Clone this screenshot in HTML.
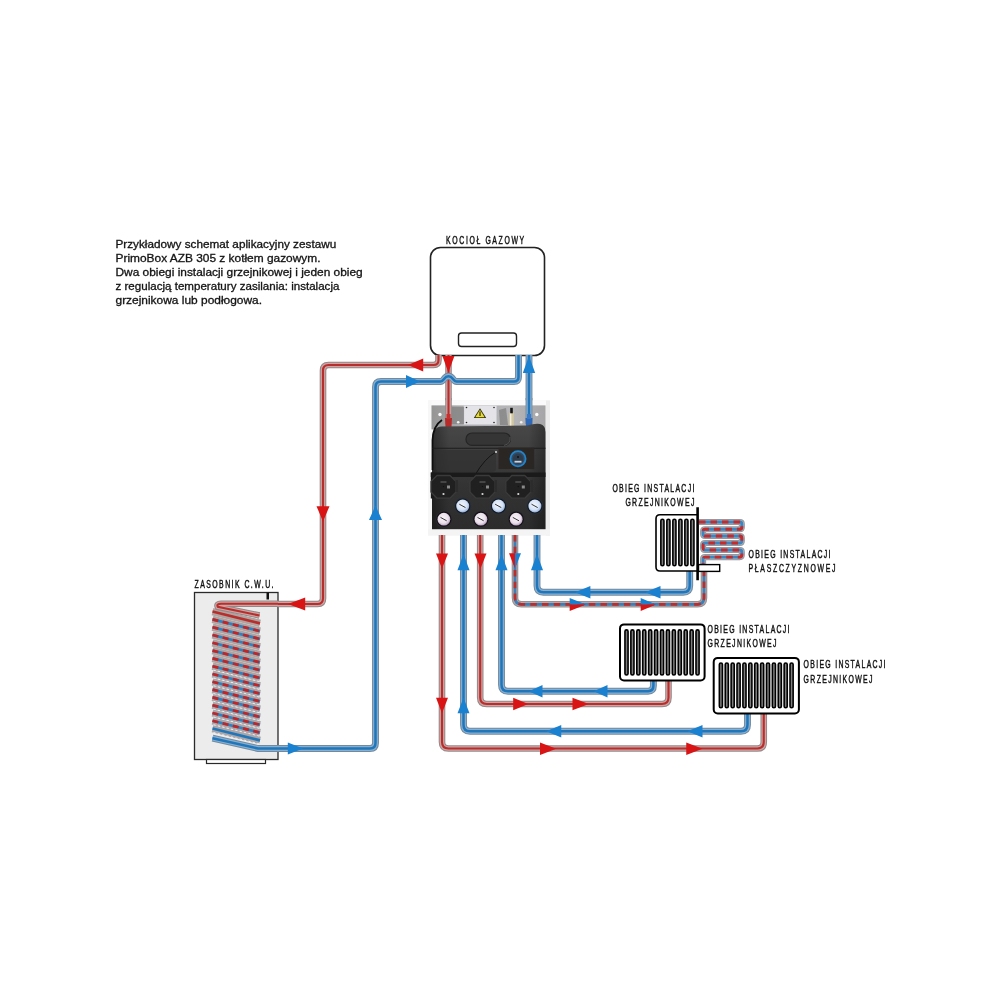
<!DOCTYPE html><html><head><meta charset="utf-8"><style>html,body{margin:0;padding:0;background:#fff;width:1000px;height:1000px;overflow:hidden}svg{display:block;will-change:transform}</style></head><body>
<svg width="1000" height="1000" viewBox="0 0 1000 1000">
<rect width="1000" height="1000" fill="#ffffff"/>
<text x="115.5" y="247.8" font-family="Liberation Sans, sans-serif" font-size="10.8" fill="#141414" stroke="#141414" stroke-width="0.3" textLength="220.7" lengthAdjust="spacingAndGlyphs">Przykładowy schemat aplikacyjny zestawu</text>
<text x="115.5" y="262.2" font-family="Liberation Sans, sans-serif" font-size="10.8" fill="#141414" stroke="#141414" stroke-width="0.3" textLength="205" lengthAdjust="spacingAndGlyphs">PrimoBox AZB 305 z kotłem gazowym.</text>
<text x="115.5" y="276.2" font-family="Liberation Sans, sans-serif" font-size="10.8" fill="#141414" stroke="#141414" stroke-width="0.3" textLength="247.2" lengthAdjust="spacingAndGlyphs">Dwa obiegi instalacji grzejnikowej i jeden obieg</text>
<text x="115.5" y="290.0" font-family="Liberation Sans, sans-serif" font-size="10.8" fill="#141414" stroke="#141414" stroke-width="0.3" textLength="223.9" lengthAdjust="spacingAndGlyphs">z regulacją temperatury zasilania: instalacja</text>
<text x="115.5" y="304.2" font-family="Liberation Sans, sans-serif" font-size="10.8" fill="#141414" stroke="#141414" stroke-width="0.3" textLength="146.5" lengthAdjust="spacingAndGlyphs">grzejnikowa lub podłogowa.</text>
<text transform="translate(446.1,243.75) scale(0.64,1)" font-family="Liberation Sans, sans-serif" font-size="10.8" fill="#111" stroke="#111" stroke-width="0.45" textLength="121.93" lengthAdjust="spacing">KOCIOŁ GAZOWY</text>
<text transform="translate(194.5,587.8) scale(0.64,1)" font-family="Liberation Sans, sans-serif" font-size="10.8" fill="#111" stroke="#111" stroke-width="0.45" textLength="123.49" lengthAdjust="spacing">ZASOBNIK C.W.U.</text>
<text transform="translate(612.4,491.8) scale(0.64,1)" font-family="Liberation Sans, sans-serif" font-size="10.8" fill="#111" stroke="#111" stroke-width="0.45" textLength="128.03" lengthAdjust="spacing">OBIEG INSTALACJI</text>
<text transform="translate(625.4,505.7) scale(0.64,1)" font-family="Liberation Sans, sans-serif" font-size="10.8" fill="#111" stroke="#111" stroke-width="0.45" textLength="107.71" lengthAdjust="spacing">GRZEJNIKOWEJ</text>
<text transform="translate(748.5,557.8) scale(0.64,1)" font-family="Liberation Sans, sans-serif" font-size="10.8" fill="#111" stroke="#111" stroke-width="0.45" textLength="128.18" lengthAdjust="spacing">OBIEG INSTALACJI</text>
<text transform="translate(748.5,571.8) scale(0.64,1)" font-family="Liberation Sans, sans-serif" font-size="10.8" fill="#111" stroke="#111" stroke-width="0.45" textLength="135.99" lengthAdjust="spacing">PŁASZCZYZNOWEJ</text>
<text transform="translate(707.5,632.5) scale(0.64,1)" font-family="Liberation Sans, sans-serif" font-size="10.8" fill="#111" stroke="#111" stroke-width="0.45" textLength="128.18" lengthAdjust="spacing">OBIEG INSTALACJI</text>
<text transform="translate(707.5,646.5) scale(0.64,1)" font-family="Liberation Sans, sans-serif" font-size="10.8" fill="#111" stroke="#111" stroke-width="0.45" textLength="107.87" lengthAdjust="spacing">GRZEJNIKOWEJ</text>
<text transform="translate(803.6,667.8) scale(0.64,1)" font-family="Liberation Sans, sans-serif" font-size="10.8" fill="#111" stroke="#111" stroke-width="0.45" textLength="128.03" lengthAdjust="spacing">OBIEG INSTALACJI</text>
<text transform="translate(803.6,682.5) scale(0.64,1)" font-family="Liberation Sans, sans-serif" font-size="10.8" fill="#111" stroke="#111" stroke-width="0.45" textLength="107.71" lengthAdjust="spacing">GRZEJNIKOWEJ</text>
<rect x="430.5" y="247.5" width="114" height="108" rx="10" ry="10" fill="#fff" stroke="#222" stroke-width="1.6"/>
<rect x="458.5" y="333" width="58" height="13.5" rx="3" ry="3" fill="#fff" stroke="#222" stroke-width="1.4"/>
<rect x="194.5" y="592.5" width="83.5" height="167" fill="#ececec" stroke="#2a2a2a" stroke-width="1.3"/>
<rect x="206.5" y="759.5" width="59" height="4" fill="#fff" stroke="#2a2a2a" stroke-width="1.2"/>
<rect x="266.5" y="592.5" width="2.5" height="7" fill="#111"/>
<line x1="212.5" y1="611.6" x2="260" y2="623.38" stroke="#b0a4a2" stroke-width="7.4"/>
<line x1="212.5" y1="619.4" x2="260" y2="631.18" stroke="#b0a4a2" stroke-width="7.4"/>
<line x1="212.5" y1="627.2" x2="260" y2="638.98" stroke="#b0a4a2" stroke-width="7.4"/>
<line x1="212.5" y1="635" x2="260" y2="646.78" stroke="#b0a4a2" stroke-width="7.4"/>
<line x1="212.5" y1="642.8" x2="260" y2="654.58" stroke="#b0a4a2" stroke-width="7.4"/>
<line x1="212.5" y1="650.6" x2="260" y2="662.38" stroke="#b0a4a2" stroke-width="7.4"/>
<line x1="212.5" y1="658.4" x2="260" y2="670.18" stroke="#b0a4a2" stroke-width="7.4"/>
<line x1="212.5" y1="666.2" x2="260" y2="677.98" stroke="#b0a4a2" stroke-width="7.4"/>
<line x1="212.5" y1="674" x2="260" y2="685.78" stroke="#aaa6aa" stroke-width="7.4"/>
<line x1="212.5" y1="681.8" x2="260" y2="693.58" stroke="#aaa6aa" stroke-width="7.4"/>
<line x1="212.5" y1="689.6" x2="260" y2="701.38" stroke="#aaa6aa" stroke-width="7.4"/>
<line x1="212.5" y1="697.4" x2="260" y2="709.18" stroke="#aaa6aa" stroke-width="7.4"/>
<line x1="212.5" y1="705.2" x2="260" y2="716.98" stroke="#aaa6aa" stroke-width="7.4"/>
<line x1="212.5" y1="713" x2="260" y2="724.78" stroke="#aaa6aa" stroke-width="7.4"/>
<line x1="212.5" y1="720.8" x2="260" y2="732.58" stroke="#aaa6aa" stroke-width="7.4"/>
<line x1="212.5" y1="728.6" x2="260" y2="740.38" stroke="#aaa6aa" stroke-width="7.4"/>
<line x1="212.5" y1="611.6" x2="260" y2="623.38" stroke="#b82e2c" stroke-width="2.6"/>
<line x1="212.5" y1="619.4" x2="260" y2="631.18" stroke="#2a84c4" stroke-width="2.7"/>
<line x1="212.5" y1="619.4" x2="260" y2="631.18" stroke="#c42424" stroke-width="2.7" stroke-dasharray="6 4.5"/>
<line x1="212.5" y1="627.2" x2="260" y2="638.98" stroke="#2a84c4" stroke-width="2.7"/>
<line x1="212.5" y1="627.2" x2="260" y2="638.98" stroke="#c42424" stroke-width="2.7" stroke-dasharray="6 4.5"/>
<line x1="212.5" y1="635" x2="260" y2="646.78" stroke="#2a84c4" stroke-width="2.7"/>
<line x1="212.5" y1="635" x2="260" y2="646.78" stroke="#c42424" stroke-width="2.7" stroke-dasharray="6 4.5"/>
<line x1="212.5" y1="642.8" x2="260" y2="654.58" stroke="#2a84c4" stroke-width="2.7"/>
<line x1="212.5" y1="642.8" x2="260" y2="654.58" stroke="#c42424" stroke-width="2.7" stroke-dasharray="6 4.5"/>
<line x1="212.5" y1="650.6" x2="260" y2="662.38" stroke="#2a84c4" stroke-width="2.7"/>
<line x1="212.5" y1="650.6" x2="260" y2="662.38" stroke="#c42424" stroke-width="2.7" stroke-dasharray="6 4.5"/>
<line x1="212.5" y1="658.4" x2="260" y2="670.18" stroke="#2a84c4" stroke-width="2.7"/>
<line x1="212.5" y1="658.4" x2="260" y2="670.18" stroke="#c42424" stroke-width="2.7" stroke-dasharray="6 4.5"/>
<line x1="212.5" y1="666.2" x2="260" y2="677.98" stroke="#2a84c4" stroke-width="2.7"/>
<line x1="212.5" y1="666.2" x2="260" y2="677.98" stroke="#c42424" stroke-width="2.7" stroke-dasharray="6 4.5"/>
<line x1="213.5" y1="670.1" x2="259" y2="681.38" stroke="#f4f4f4" stroke-width="0.9" stroke-dasharray="2.2 2.3"/>
<line x1="212.5" y1="674" x2="260" y2="685.78" stroke="#2a84c4" stroke-width="2.7"/>
<line x1="212.5" y1="674" x2="260" y2="685.78" stroke="#c42424" stroke-width="2.7" stroke-dasharray="6 4.5"/>
<line x1="213.5" y1="677.9" x2="259" y2="689.18" stroke="#f4f4f4" stroke-width="0.9" stroke-dasharray="2.2 2.3"/>
<line x1="212.5" y1="681.8" x2="260" y2="693.58" stroke="#2a84c4" stroke-width="2.7"/>
<line x1="212.5" y1="681.8" x2="260" y2="693.58" stroke="#c42424" stroke-width="2.7" stroke-dasharray="6 4.5"/>
<line x1="213.5" y1="685.7" x2="259" y2="696.98" stroke="#f4f4f4" stroke-width="0.9" stroke-dasharray="2.2 2.3"/>
<line x1="212.5" y1="689.6" x2="260" y2="701.38" stroke="#2a84c4" stroke-width="2.7"/>
<line x1="212.5" y1="689.6" x2="260" y2="701.38" stroke="#c42424" stroke-width="2.7" stroke-dasharray="6 4.5"/>
<line x1="213.5" y1="693.5" x2="259" y2="704.78" stroke="#f4f4f4" stroke-width="0.9" stroke-dasharray="2.2 2.3"/>
<line x1="212.5" y1="697.4" x2="260" y2="709.18" stroke="#2a84c4" stroke-width="2.7"/>
<line x1="212.5" y1="697.4" x2="260" y2="709.18" stroke="#c42424" stroke-width="2.7" stroke-dasharray="6 4.5"/>
<line x1="213.5" y1="701.3" x2="259" y2="712.58" stroke="#f4f4f4" stroke-width="0.9" stroke-dasharray="2.2 2.3"/>
<line x1="212.5" y1="705.2" x2="260" y2="716.98" stroke="#2a84c4" stroke-width="2.7"/>
<line x1="212.5" y1="705.2" x2="260" y2="716.98" stroke="#c42424" stroke-width="2.7" stroke-dasharray="6 4.5"/>
<line x1="213.5" y1="709.1" x2="259" y2="720.38" stroke="#f4f4f4" stroke-width="0.9" stroke-dasharray="2.2 2.3"/>
<line x1="212.5" y1="713" x2="260" y2="724.78" stroke="#2a84c4" stroke-width="2.7"/>
<line x1="212.5" y1="713" x2="260" y2="724.78" stroke="#c42424" stroke-width="2.7" stroke-dasharray="6 4.5"/>
<line x1="213.5" y1="716.9" x2="259" y2="728.18" stroke="#f4f4f4" stroke-width="0.9" stroke-dasharray="2.2 2.3"/>
<line x1="212.5" y1="720.8" x2="260" y2="732.58" stroke="#2a84c4" stroke-width="2.7"/>
<line x1="212.5" y1="720.8" x2="260" y2="732.58" stroke="#c42424" stroke-width="2.7" stroke-dasharray="6 4.5"/>
<line x1="213.5" y1="724.7" x2="259" y2="735.98" stroke="#f4f4f4" stroke-width="0.9" stroke-dasharray="2.2 2.3"/>
<line x1="212.5" y1="728.6" x2="260" y2="740.38" stroke="#2076b8" stroke-width="2.6"/>
<line x1="213.5" y1="732.5" x2="259" y2="743.78" stroke="#f4f4f4" stroke-width="0.9" stroke-dasharray="2.2 2.3"/>
<line x1="216.5" y1="608.2" x2="257" y2="618.24" stroke="#f4f4f4" stroke-width="0.9" stroke-dasharray="2.2 2.3"/>
<path d="M278,603.8 H221 Q216.2,603.8 217.8,606.8 L259.5,615.5" fill="none" stroke="#948888" stroke-width="6.4"/>
<path d="M278,603.8 H221 Q216.2,603.8 217.8,606.8 L259.5,615.5" fill="none" stroke="#d0a2a2" stroke-width="4.4"/>
<path d="M278,603.8 H221 Q216.2,603.8 217.8,606.8 L259.5,615.5" fill="none" stroke="#b82e2c" stroke-width="2.1"/>
<path d="M448.5,355 V420" fill="none" stroke="#948888" stroke-width="6.6"/>
<path d="M448.5,355 V420" fill="none" stroke="#d0a2a2" stroke-width="4.6"/>
<path d="M448.5,355 V420" fill="none" stroke="#b82e2c" stroke-width="2.1"/>
<path d="M212.5,738.2 L258,748.5 H370 Q375.5,748.5 375.5,743 V387 Q375.5,381.5 381,381.5 H440.5 C444,381.5 443.8,376.3 448.5,376.3 C453.2,376.3 453,381.5 456.5,381.5 H514 Q518.5,381.5 518.5,377 V355" fill="none" stroke="#74899b" stroke-width="6.8999999999999995"/>
<path d="M212.5,738.2 L258,748.5 H370 Q375.5,748.5 375.5,743 V387 Q375.5,381.5 381,381.5 H440.5 C444,381.5 443.8,376.3 448.5,376.3 C453.2,376.3 453,381.5 456.5,381.5 H514 Q518.5,381.5 518.5,377 V355" fill="none" stroke="#84b0d6" stroke-width="4.8999999999999995"/>
<path d="M212.5,738.2 L258,748.5 H370 Q375.5,748.5 375.5,743 V387 Q375.5,381.5 381,381.5 H440.5 C444,381.5 443.8,376.3 448.5,376.3 C453.2,376.3 453,381.5 456.5,381.5 H514 Q518.5,381.5 518.5,377 V355" fill="none" stroke="#2076b8" stroke-width="2.5"/>
<path d="M438.5,355 L438.5,360 Q438.5,365 433.5,365 L328.5,365 Q323,365 323,370.5 L323,598.5 Q323,604 317.5,604 L278,604" fill="none" stroke="#948888" stroke-width="6.6"/>
<path d="M438.5,355 L438.5,360 Q438.5,365 433.5,365 L328.5,365 Q323,365 323,370.5 L323,598.5 Q323,604 317.5,604 L278,604" fill="none" stroke="#d0a2a2" stroke-width="4.6"/>
<path d="M438.5,355 L438.5,360 Q438.5,365 433.5,365 L328.5,365 Q323,365 323,370.5 L323,598.5 Q323,604 317.5,604 L278,604" fill="none" stroke="#b82e2c" stroke-width="2.1"/>
<path d="M529,355 V402" fill="none" stroke="#74899b" stroke-width="6.8999999999999995"/>
<path d="M529,355 V402" fill="none" stroke="#84b0d6" stroke-width="4.8999999999999995"/>
<path d="M529,355 V402" fill="none" stroke="#2076b8" stroke-width="2.5"/>
<defs><linearGradient id="plate" x1="0" y1="0" x2="1" y2="0"><stop offset="0" stop-color="#959595"/><stop offset="0.3" stop-color="#adadb0"/><stop offset="0.7" stop-color="#b6b6b8"/><stop offset="1" stop-color="#a6a6a8"/></linearGradient><linearGradient id="ins" x1="0" y1="0" x2="0" y2="1"><stop offset="0" stop-color="#484848"/><stop offset="0.25" stop-color="#3f3f3f"/><stop offset="0.6" stop-color="#333"/><stop offset="1" stop-color="#2c2c2c"/></linearGradient><linearGradient id="insh" x1="0" y1="0" x2="1" y2="0"><stop offset="0" stop-color="#000" stop-opacity="0.35"/><stop offset="0.15" stop-color="#000" stop-opacity="0"/><stop offset="0.85" stop-color="#000" stop-opacity="0"/><stop offset="1" stop-color="#000" stop-opacity="0.3"/></linearGradient><radialGradient id="tb" cx="0.45" cy="0.42" r="0.6"><stop offset="0" stop-color="#f2f6fc"/><stop offset="0.65" stop-color="#d4e2f6"/><stop offset="1" stop-color="#8aa6d2"/></radialGradient><radialGradient id="tp" cx="0.45" cy="0.42" r="0.6"><stop offset="0" stop-color="#f8f4f8"/><stop offset="0.65" stop-color="#ebe0ec"/><stop offset="1" stop-color="#b49cbc"/></radialGradient></defs>
<rect x="428" y="400.5" width="122" height="135" fill="#f3f3f3"/>
<rect x="428" y="400.5" width="122" height="5" fill="#fafafa"/>
<rect x="428" y="400.5" width="3.5" height="135" fill="#f7f7f7"/>
<rect x="546" y="400.5" width="4" height="135" fill="#ececec"/>
<rect x="431.5" y="405.4" width="114" height="24" fill="url(#plate)"/>
<rect x="464" y="405.4" width="32.5" height="19" fill="#e4e4e8" stroke="#cfd0d6" stroke-width="0.6"/>
<circle cx="466.5" cy="407.5" r="0.8" fill="#222"/><circle cx="494" cy="407.5" r="0.8" fill="#222"/><circle cx="466.5" cy="422.5" r="0.8" fill="#222"/><circle cx="494" cy="422.5" r="0.8" fill="#222"/>
<polygon points="473.8,418 480,408.2 486.2,418" fill="#2a2a10"/>
<polygon points="475.3,417.2 480,409.8 484.7,417.2" fill="#e9dc2a"/>
<rect x="479.4" y="411.5" width="1.2" height="4.5" fill="#333"/>
<path d="M452,407 L464,407 L464,424 L450,424 Z" fill="#7a7a7a" opacity="0.6"/>
<path d="M499,410 L506,408 L508,425 L500,425 Z" fill="#6e6e6e" opacity="0.55"/>
<rect x="509.2" y="412.5" width="4.6" height="13.5" fill="#d2c7a4"/><rect x="510" y="412.5" width="1.4" height="13.5" fill="#f2ecd8"/>
<rect x="510.2" y="407.8" width="2.6" height="5.5" fill="#151515"/>
<circle cx="440" cy="414.5" r="1.7" fill="#fafafa"/><circle cx="458.2" cy="422.3" r="1.3" fill="#f0f0f0"/><circle cx="536.8" cy="414.5" r="1.7" fill="#fafafa"/><circle cx="521.2" cy="422.3" r="1.3" fill="#f0f0f0"/>
<path d="M448.5,398 V424" fill="none" stroke="#948888" stroke-width="6.6"/>
<path d="M448.5,398 V424" fill="none" stroke="#d0a2a2" stroke-width="4.6"/>
<path d="M448.5,398 V424" fill="none" stroke="#b82e2c" stroke-width="2.1"/>
<path d="M529,398 V424" fill="none" stroke="#74899b" stroke-width="6.8999999999999995"/>
<path d="M529,398 V424" fill="none" stroke="#84b0d6" stroke-width="4.8999999999999995"/>
<path d="M529,398 V424" fill="none" stroke="#2076b8" stroke-width="2.5"/>
<path d="M445,418 L452,418 L451.5,427 L445.5,427 Z" fill="#b62a2a"/><rect x="446.5" y="414" width="4" height="5" fill="#c83030"/>
<path d="M525.5,418 L532.5,418 L532,427 L526,427 Z" fill="#2f68b6"/><rect x="527" y="414" width="4" height="5" fill="#3a78c8"/>
<path d="M432,440 Q432,427 442,426.5 L527,425.5 Q535,423.2 540,424 Q545.5,425.5 545.5,432 V529.4 H432 Z" fill="url(#ins)"/>
<path d="M432,440 Q432,427 442,426.5 L527,425.5 Q535,423.2 540,424 Q545.5,425.5 545.5,432 V529.4 H432 Z" fill="url(#insh)"/>
<path d="M442,420 Q433,426 432.5,440 V470" fill="none" stroke="#0e0e0e" stroke-width="1.8"/>
<rect x="466" y="433" width="44.4" height="12.4" rx="6" fill="#353535" stroke="#252525" stroke-width="1.2"/><path d="M510,437 Q511,444 504,445.4" fill="none" stroke="#5a5a5a" stroke-width="0.8"/>
<path d="M432,448.3 H545.5" stroke="#1c1c1c" stroke-width="1.1"/>
<rect x="436" y="450" width="60" height="22" rx="4" fill="#313131" opacity="0.7"/>
<path d="M475,475 Q485,458 496,452" fill="none" stroke="#141414" stroke-width="1"/>
<circle cx="496" cy="452" r="1" fill="#ddd"/>
<rect x="498.5" y="447.7" width="35.7" height="21.4" fill="#2a2624"/>
<circle cx="518" cy="458.7" r="7.6" fill="#34495e" stroke="#2184cc" stroke-width="1.8"/>
<circle cx="518" cy="458.7" r="5" fill="#2c3c4c"/>
<rect x="514.5" y="460.8" width="7" height="1.8" fill="#c8d4e4"/><circle cx="518" cy="457" r="1" fill="#111"/>
<path d="M430.8,472.5 H545.5 V477 H430.8 Z" fill="#1a1a1a"/>
<rect x="430.8" y="472.5" width="3" height="26" fill="#1a1a1a"/>
<path d="M437,475.5 H450 L456,481.5 V492 L450,498.2 H437 L431,492 V481.5 Z" fill="#202020" stroke="#3a3a3a" stroke-width="1.3" stroke-linejoin="round"/>
<rect x="455.5" y="480" width="2.4" height="12" fill="#2c2c2c"/>
<rect x="440.5" y="481.5" width="6" height="1" fill="#6a6a6a"/>
<rect x="447" y="485.5" width="3" height="3" fill="#8a8a8a"/><circle cx="443.5" cy="486.5" r="0.7" fill="#111"/><circle cx="443.5" cy="494" r="1.1" fill="#d8d8d8"/>
<path d="M476,475.5 H489 L495,481.5 V492 L489,498.2 H476 L470,492 V481.5 Z" fill="#202020" stroke="#3a3a3a" stroke-width="1.3" stroke-linejoin="round"/>
<rect x="494.5" y="480" width="2.4" height="12" fill="#2c2c2c"/>
<rect x="479.5" y="481.5" width="6" height="1" fill="#6a6a6a"/>
<rect x="486" y="485.5" width="3" height="3" fill="#8a8a8a"/><circle cx="482.5" cy="486.5" r="0.7" fill="#111"/><circle cx="482.5" cy="494" r="1.1" fill="#d8d8d8"/>
<path d="M511.8,475.5 H524.8 L530.8,481.5 V492 L524.8,498.2 H511.8 L505.8,492 V481.5 Z" fill="#202020" stroke="#3a3a3a" stroke-width="1.3" stroke-linejoin="round"/>
<rect x="530.3" y="480" width="2.4" height="12" fill="#2c2c2c"/>
<rect x="515.3" y="481.5" width="6" height="1" fill="#6a6a6a"/>
<rect x="521.8" y="485.5" width="3" height="3" fill="#8a8a8a"/><circle cx="518.3" cy="486.5" r="0.7" fill="#111"/><circle cx="518.3" cy="494" r="1.1" fill="#d8d8d8"/>
<circle cx="462.7" cy="506" r="8.4" fill="#2a3038"/><circle cx="462.7" cy="506" r="7.6" fill="#121820"/><circle cx="462.7" cy="506" r="6.5" fill="url(#tb)"/><line x1="459.3" y1="504.2" x2="465.5" y2="507.6" stroke="#222" stroke-width="0.9"/>
<circle cx="498.5" cy="506" r="8.4" fill="#2a3038"/><circle cx="498.5" cy="506" r="7.6" fill="#121820"/><circle cx="498.5" cy="506" r="6.5" fill="url(#tb)"/><line x1="495.1" y1="504.2" x2="501.3" y2="507.6" stroke="#222" stroke-width="0.9"/>
<circle cx="534.9" cy="506" r="8.4" fill="#2a3038"/><circle cx="534.9" cy="506" r="7.6" fill="#121820"/><circle cx="534.9" cy="506" r="6.5" fill="url(#tb)"/><line x1="531.5" y1="504.2" x2="537.7" y2="507.6" stroke="#222" stroke-width="0.9"/>
<circle cx="443.9" cy="519.2" r="8.4" fill="#2e2c30"/><circle cx="443.9" cy="519.2" r="7.6" fill="#141216"/><circle cx="443.9" cy="519.2" r="6.4" fill="url(#tp)"/><line x1="440.5" y1="517.4" x2="446.7" y2="520.8" stroke="#222" stroke-width="0.9"/>
<circle cx="480.9" cy="519.2" r="8.4" fill="#2e2c30"/><circle cx="480.9" cy="519.2" r="7.6" fill="#141216"/><circle cx="480.9" cy="519.2" r="6.4" fill="url(#tp)"/><line x1="477.5" y1="517.4" x2="483.7" y2="520.8" stroke="#222" stroke-width="0.9"/>
<circle cx="516.2" cy="519.2" r="8.4" fill="#2e2c30"/><circle cx="516.2" cy="519.2" r="7.6" fill="#141216"/><circle cx="516.2" cy="519.2" r="6.4" fill="url(#tp)"/><line x1="512.8" y1="517.4" x2="519" y2="520.8" stroke="#222" stroke-width="0.9"/>
<rect x="428" y="529.4" width="122" height="6" fill="#f4f4f4"/>
<path d="M442,535 L442,742 Q442,748.5 448.5,748.5 L757.25,748.5 Q763.75,748.5 763.75,742 L763.75,713.4" fill="none" stroke="#948888" stroke-width="6.6"/>
<path d="M442,535 L442,742 Q442,748.5 448.5,748.5 L757.25,748.5 Q763.75,748.5 763.75,742 L763.75,713.4" fill="none" stroke="#d0a2a2" stroke-width="4.6"/>
<path d="M442,535 L442,742 Q442,748.5 448.5,748.5 L757.25,748.5 Q763.75,748.5 763.75,742 L763.75,713.4" fill="none" stroke="#b82e2c" stroke-width="2.1"/>
<path d="M463.5,535 L463.5,724.7 Q463.5,731.2 470,731.2 L741,731.2 Q747.5,731.2 747.5,724.7 L747.5,713.4" fill="none" stroke="#74899b" stroke-width="6.8999999999999995"/>
<path d="M463.5,535 L463.5,724.7 Q463.5,731.2 470,731.2 L741,731.2 Q747.5,731.2 747.5,724.7 L747.5,713.4" fill="none" stroke="#84b0d6" stroke-width="4.8999999999999995"/>
<path d="M463.5,535 L463.5,724.7 Q463.5,731.2 470,731.2 L741,731.2 Q747.5,731.2 747.5,724.7 L747.5,713.4" fill="none" stroke="#2076b8" stroke-width="2.5"/>
<path d="M480.2,535 L480.2,697.5 Q480.2,704 486.7,704 L662,704 Q668.5,704 668.5,697.5 L668.5,680.5" fill="none" stroke="#948888" stroke-width="6.6"/>
<path d="M480.2,535 L480.2,697.5 Q480.2,704 486.7,704 L662,704 Q668.5,704 668.5,697.5 L668.5,680.5" fill="none" stroke="#d0a2a2" stroke-width="4.6"/>
<path d="M480.2,535 L480.2,697.5 Q480.2,704 486.7,704 L662,704 Q668.5,704 668.5,697.5 L668.5,680.5" fill="none" stroke="#b82e2c" stroke-width="2.1"/>
<path d="M501.5,535 L501.5,684.7 Q501.5,691.2 508,691.2 L648.05,691.2 Q653.4,691.2 653.4,685.85 L653.4,680.5" fill="none" stroke="#74899b" stroke-width="6.8999999999999995"/>
<path d="M501.5,535 L501.5,684.7 Q501.5,691.2 508,691.2 L648.05,691.2 Q653.4,691.2 653.4,685.85 L653.4,680.5" fill="none" stroke="#84b0d6" stroke-width="4.8999999999999995"/>
<path d="M501.5,535 L501.5,684.7 Q501.5,691.2 508,691.2 L648.05,691.2 Q653.4,691.2 653.4,685.85 L653.4,680.5" fill="none" stroke="#2076b8" stroke-width="2.5"/>
<path d="M515,535 L515,597.8 Q515,604.3 521.5,604.3 L697.5,604.3 Q704,604.3 704,597.8 L704,571" fill="none" stroke="#979090" stroke-width="6.6"/>
<path d="M515,535 L515,597.8 Q515,604.3 521.5,604.3 L697.5,604.3 Q704,604.3 704,597.8 L704,571" fill="none" stroke="#b4a6aa" stroke-width="4.6"/>
<path d="M515,535 L515,597.8 Q515,604.3 521.5,604.3 L697.5,604.3 Q704,604.3 704,597.8 L704,571" fill="none" stroke="#3a80b8" stroke-width="2.7"/>
<path d="M515,535 L515,597.8 Q515,604.3 521.5,604.3 L697.5,604.3 Q704,604.3 704,597.8 L704,571" fill="none" stroke="#b82e2c" stroke-width="2.7" stroke-dasharray="6.5 5.2"/>
<path d="M537,535 L537,585.7 Q537,592.2 543.5,592.2 L683.2,592.2 Q689.7,592.2 689.7,585.7 L689.7,571" fill="none" stroke="#74899b" stroke-width="6.8999999999999995"/>
<path d="M537,535 L537,585.7 Q537,592.2 543.5,592.2 L683.2,592.2 Q689.7,592.2 689.7,585.7 L689.7,571" fill="none" stroke="#84b0d6" stroke-width="4.8999999999999995"/>
<path d="M537,535 L537,585.7 Q537,592.2 543.5,592.2 L683.2,592.2 Q689.7,592.2 689.7,585.7 L689.7,571" fill="none" stroke="#2076b8" stroke-width="2.5"/>
<path d="M699,522 L739.8,522 Q741.8,522 741.8,524 L741.8,527.2 Q741.8,529.2 739.8,529.2 L705.1,529.2 Q703.1,529.2 703.1,531.2 L703.1,534 Q703.1,536 705.1,536 L739.8,536 Q741.8,536 741.8,538 L741.8,541 Q741.8,543 739.8,543 L705.1,543 Q703.1,543 703.1,545 L703.1,548 Q703.1,550 705.1,550 L739.8,550 Q741.8,550 741.8,552 L741.8,555.1 Q741.8,557.1 739.8,557.1 L705.1,557.1 Q703.1,557.1 703.1,559.1 L703.1,565" fill="none" stroke="#98989c" stroke-width="6.1" stroke-linejoin="miter"/>
<path d="M699,522 L739.8,522 Q741.8,522 741.8,524 L741.8,527.2 Q741.8,529.2 739.8,529.2 L705.1,529.2 Q703.1,529.2 703.1,531.2 L703.1,534 Q703.1,536 705.1,536 L739.8,536 Q741.8,536 741.8,538 L741.8,541 Q741.8,543 739.8,543 L705.1,543 Q703.1,543 703.1,545 L703.1,548 Q703.1,550 705.1,550 L739.8,550 Q741.8,550 741.8,552 L741.8,555.1 Q741.8,557.1 739.8,557.1 L705.1,557.1 Q703.1,557.1 703.1,559.1 L703.1,565" fill="none" stroke="#b2b6bc" stroke-width="4.1"/>
<path d="M699,522 L739.8,522 Q741.8,522 741.8,524 L741.8,527.2 Q741.8,529.2 739.8,529.2 L705.1,529.2 Q703.1,529.2 703.1,531.2 L703.1,534 Q703.1,536 705.1,536 L739.8,536 Q741.8,536 741.8,538 L741.8,541 Q741.8,543 739.8,543 L705.1,543 Q703.1,543 703.1,545 L703.1,548 Q703.1,550 705.1,550 L739.8,550 Q741.8,550 741.8,552 L741.8,555.1 Q741.8,557.1 739.8,557.1 L705.1,557.1 Q703.1,557.1 703.1,559.1 L703.1,565" fill="none" stroke="#3a86c2" stroke-width="2.9"/>
<path d="M699,522 L739.8,522 Q741.8,522 741.8,524 L741.8,527.2 Q741.8,529.2 739.8,529.2 L705.1,529.2 Q703.1,529.2 703.1,531.2 L703.1,534 Q703.1,536 705.1,536 L739.8,536 Q741.8,536 741.8,538 L741.8,541 Q741.8,543 739.8,543 L705.1,543 Q703.1,543 703.1,545 L703.1,548 Q703.1,550 705.1,550 L739.8,550 Q741.8,550 741.8,552 L741.8,555.1 Q741.8,557.1 739.8,557.1 L705.1,557.1 Q703.1,557.1 703.1,559.1 L703.1,565" fill="none" stroke="#c62a2a" stroke-width="2.9" stroke-dasharray="6.5 5"/>
<path d="M697.6,514.75 H660 Q656,514.75 656,518.75 V567 Q656,571 660,571 H697.6" fill="#fff" stroke="#000" stroke-width="1.6"/>
<rect x="660.85" y="519.25" width="3.1" height="46.55" rx="1.55" ry="1.55" fill="#7e7e7e" stroke="#000" stroke-width="1.6"/>
<rect x="666.85" y="519.25" width="3.1" height="46.55" rx="1.55" ry="1.55" fill="#7e7e7e" stroke="#000" stroke-width="1.6"/>
<rect x="672.85" y="519.25" width="3.1" height="46.55" rx="1.55" ry="1.55" fill="#7e7e7e" stroke="#000" stroke-width="1.6"/>
<rect x="678.85" y="519.25" width="3.1" height="46.55" rx="1.55" ry="1.55" fill="#7e7e7e" stroke="#000" stroke-width="1.6"/>
<rect x="684.85" y="519.25" width="3.1" height="46.55" rx="1.55" ry="1.55" fill="#7e7e7e" stroke="#000" stroke-width="1.6"/>
<rect x="690.85" y="519.25" width="3.1" height="46.55" rx="1.55" ry="1.55" fill="#7e7e7e" stroke="#000" stroke-width="1.6"/>
<rect x="698.5" y="564.6" width="21.2" height="6.8" fill="#fff" stroke="#000" stroke-width="1.4"/>
<rect x="696.3" y="507.25" width="2.6" height="73" fill="#000"/>
<rect x="620" y="624.4" width="84.6" height="56.1" rx="4" ry="4" fill="#fff" stroke="#000" stroke-width="2"/>
<rect x="624.95" y="629.9" width="3.1" height="45.1" rx="1.55" ry="1.55" fill="#7e7e7e" stroke="#000" stroke-width="1.6"/>
<rect x="630.87" y="629.9" width="3.1" height="45.1" rx="1.55" ry="1.55" fill="#7e7e7e" stroke="#000" stroke-width="1.6"/>
<rect x="636.79" y="629.9" width="3.1" height="45.1" rx="1.55" ry="1.55" fill="#7e7e7e" stroke="#000" stroke-width="1.6"/>
<rect x="642.71" y="629.9" width="3.1" height="45.1" rx="1.55" ry="1.55" fill="#7e7e7e" stroke="#000" stroke-width="1.6"/>
<rect x="648.63" y="629.9" width="3.1" height="45.1" rx="1.55" ry="1.55" fill="#7e7e7e" stroke="#000" stroke-width="1.6"/>
<rect x="654.55" y="629.9" width="3.1" height="45.1" rx="1.55" ry="1.55" fill="#7e7e7e" stroke="#000" stroke-width="1.6"/>
<rect x="660.47" y="629.9" width="3.1" height="45.1" rx="1.55" ry="1.55" fill="#7e7e7e" stroke="#000" stroke-width="1.6"/>
<rect x="666.39" y="629.9" width="3.1" height="45.1" rx="1.55" ry="1.55" fill="#7e7e7e" stroke="#000" stroke-width="1.6"/>
<rect x="672.31" y="629.9" width="3.1" height="45.1" rx="1.55" ry="1.55" fill="#7e7e7e" stroke="#000" stroke-width="1.6"/>
<rect x="678.23" y="629.9" width="3.1" height="45.1" rx="1.55" ry="1.55" fill="#7e7e7e" stroke="#000" stroke-width="1.6"/>
<rect x="684.15" y="629.9" width="3.1" height="45.1" rx="1.55" ry="1.55" fill="#7e7e7e" stroke="#000" stroke-width="1.6"/>
<rect x="690.07" y="629.9" width="3.1" height="45.1" rx="1.55" ry="1.55" fill="#7e7e7e" stroke="#000" stroke-width="1.6"/>
<rect x="695.99" y="629.9" width="3.1" height="45.1" rx="1.55" ry="1.55" fill="#7e7e7e" stroke="#000" stroke-width="1.6"/>
<rect x="713.7" y="657.9" width="85.2" height="55.5" rx="4" ry="4" fill="#fff" stroke="#000" stroke-width="2"/>
<rect x="719.35" y="663" width="3.1" height="44.7" rx="1.55" ry="1.55" fill="#7e7e7e" stroke="#000" stroke-width="1.6"/>
<rect x="725.24" y="663" width="3.1" height="44.7" rx="1.55" ry="1.55" fill="#7e7e7e" stroke="#000" stroke-width="1.6"/>
<rect x="731.13" y="663" width="3.1" height="44.7" rx="1.55" ry="1.55" fill="#7e7e7e" stroke="#000" stroke-width="1.6"/>
<rect x="737.02" y="663" width="3.1" height="44.7" rx="1.55" ry="1.55" fill="#7e7e7e" stroke="#000" stroke-width="1.6"/>
<rect x="742.91" y="663" width="3.1" height="44.7" rx="1.55" ry="1.55" fill="#7e7e7e" stroke="#000" stroke-width="1.6"/>
<rect x="748.8" y="663" width="3.1" height="44.7" rx="1.55" ry="1.55" fill="#7e7e7e" stroke="#000" stroke-width="1.6"/>
<rect x="754.69" y="663" width="3.1" height="44.7" rx="1.55" ry="1.55" fill="#7e7e7e" stroke="#000" stroke-width="1.6"/>
<rect x="760.58" y="663" width="3.1" height="44.7" rx="1.55" ry="1.55" fill="#7e7e7e" stroke="#000" stroke-width="1.6"/>
<rect x="766.47" y="663" width="3.1" height="44.7" rx="1.55" ry="1.55" fill="#7e7e7e" stroke="#000" stroke-width="1.6"/>
<rect x="772.36" y="663" width="3.1" height="44.7" rx="1.55" ry="1.55" fill="#7e7e7e" stroke="#000" stroke-width="1.6"/>
<rect x="778.25" y="663" width="3.1" height="44.7" rx="1.55" ry="1.55" fill="#7e7e7e" stroke="#000" stroke-width="1.6"/>
<rect x="784.14" y="663" width="3.1" height="44.7" rx="1.55" ry="1.55" fill="#7e7e7e" stroke="#000" stroke-width="1.6"/>
<rect x="790.03" y="663" width="3.1" height="44.7" rx="1.55" ry="1.55" fill="#7e7e7e" stroke="#000" stroke-width="1.6"/>
<polygon points="408,365 423.2,358.6 423.2,371.4" fill="#d81414"/>
<polygon points="406,375.1 406,387.9 420,381.5" fill="#1a80d0"/>
<polygon points="442.4,356 454.4,356 448.4,372.6" fill="#d81414"/>
<polygon points="529,356 522.8,373 535.2,373" fill="#1a80d0"/>
<polygon points="316.5,506.2 329.5,506.2 323,521.5" fill="#d81414"/>
<polygon points="375.5,505.5 369,520 382,520" fill="#1a80d0"/>
<polygon points="288,604 305.2,597.4 305.2,610.6" fill="#d81414"/>
<polygon points="287.8,742.5 287.8,754.5 303.2,748.5" fill="#1a80d0"/>
<polygon points="436,553.4 448,553.4 442,568.4" fill="#d81414"/>
<polygon points="474.5,553.4 486.5,553.4 480.5,568.4" fill="#d81414"/>
<polygon points="463.5,554 457.5,570.3 469.5,570.3" fill="#1a80d0"/>
<polygon points="501.5,554 495.5,570.3 507.5,570.3" fill="#1a80d0"/>
<polygon points="537,554 531,570.3 543,570.3" fill="#1a80d0"/>
<polygon points="509,553.2 515,553.2 515,568.4" fill="#d81414"/>
<polygon points="515,553.2 521,553.2 515,568.4" fill="#1a80d0"/>
<polygon points="436,697.7 448,697.7 442,713.3" fill="#d81414"/>
<polygon points="463.5,697.7 457.5,713.3 469.5,713.3" fill="#1a80d0"/>
<polygon points="575,592.2 590.4,585.9 590.4,598.5" fill="#1a80d0"/>
<polygon points="645.2,592.2 660.5,585.9 660.5,598.5" fill="#1a80d0"/>
<polygon points="569.7,598 569.7,604.4 585.9,604.4" fill="#1a80d0"/>
<polygon points="569.7,604.4 569.7,610.9 585.9,604.4" fill="#d81414"/>
<polygon points="640.7,598 640.7,604.4 656,604.4" fill="#1a80d0"/>
<polygon points="640.7,604.4 640.7,610.9 656,604.4" fill="#d81414"/>
<polygon points="528.8,691.2 542.5,685 542.5,697.4" fill="#1a80d0"/>
<polygon points="593.75,691.2 607.5,685 607.5,697.4" fill="#1a80d0"/>
<polygon points="513.2,697.8 513.2,710.2 528.2,704" fill="#d81414"/>
<polygon points="572.5,697.8 572.5,710.2 588.75,704" fill="#d81414"/>
<polygon points="546.25,731.2 561.25,725 561.25,737.4" fill="#1a80d0"/>
<polygon points="687.5,731.2 702.5,725 702.5,737.4" fill="#1a80d0"/>
<polygon points="540,742.55 540,754.95 556.25,748.75" fill="#d81414"/>
<polygon points="686.25,742.55 686.25,754.95 702.5,748.75" fill="#d81414"/>
</svg></body></html>
